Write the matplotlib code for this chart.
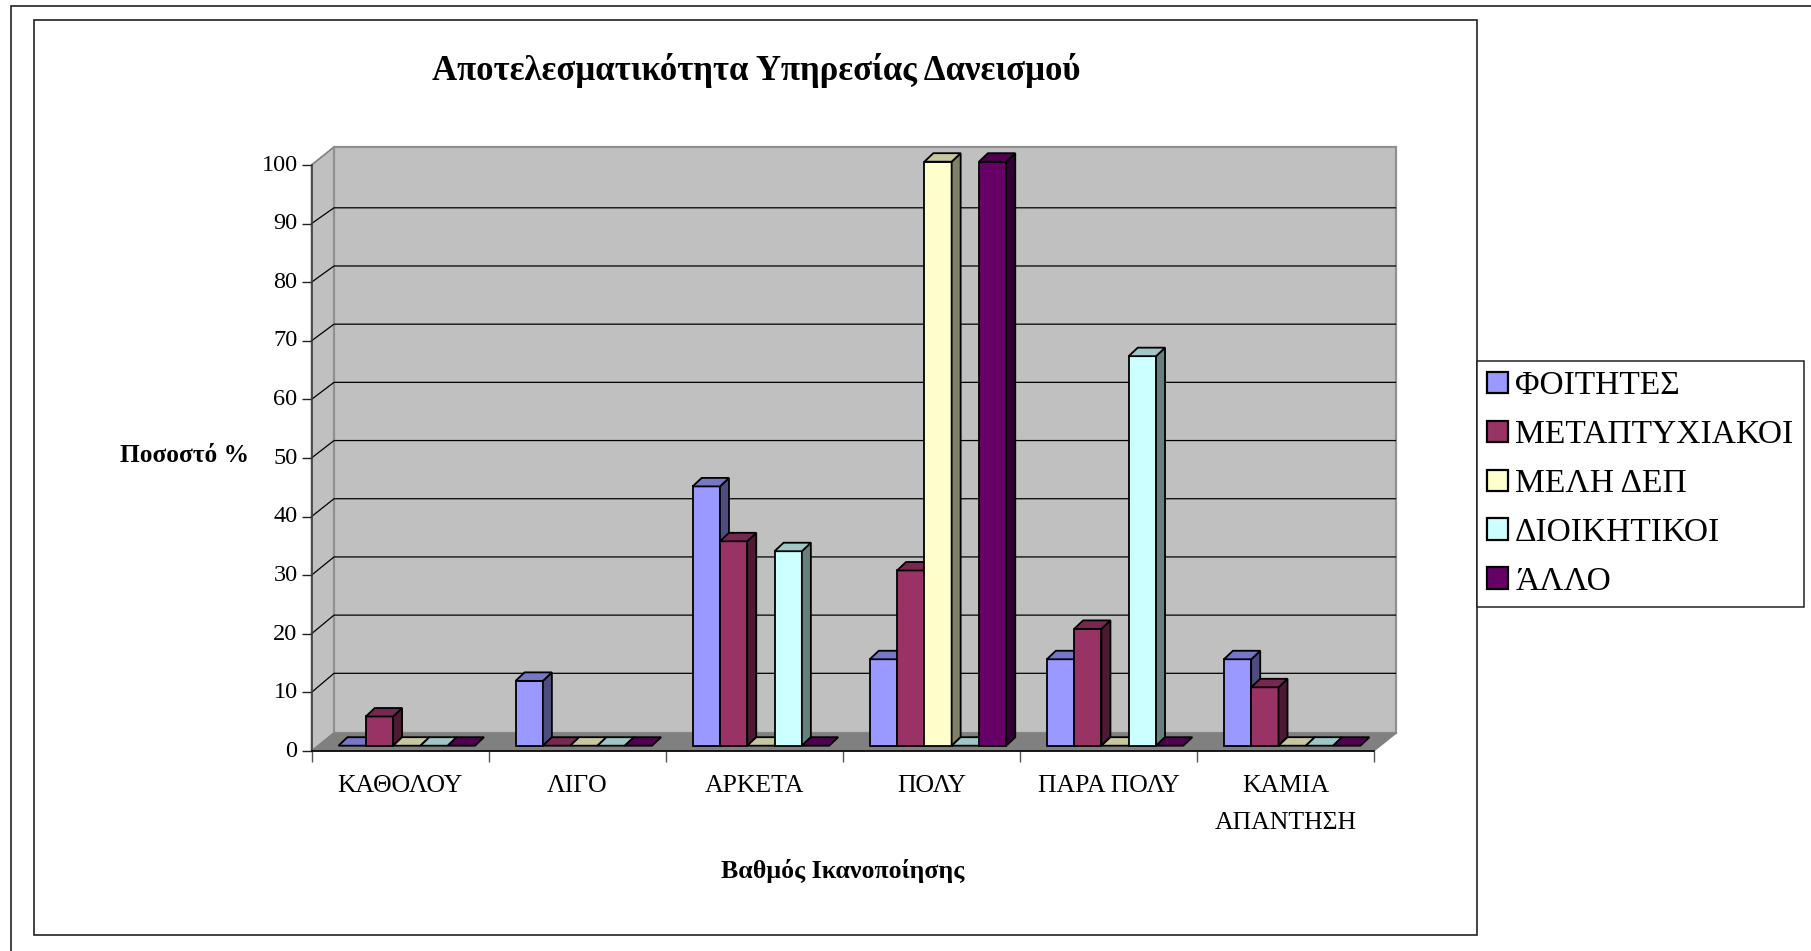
import matplotlib
matplotlib.use("Agg")
import matplotlib.pyplot as plt
from matplotlib.patches import Patch, Rectangle
from matplotlib.ticker import FixedLocator, NullFormatter
from matplotlib.transforms import ScaledTranslation

plt.rcParams['font.family'] = ['Liberation Serif', 'DejaVu Serif']

categories = ['ΚΑΘΟΛΟΥ', 'ΛΙΓΟ', 'ΑΡΚΕΤΑ', 'ΠΟΛΥ', 'ΠΑΡΑ ΠΟΛΥ', 'ΚΑΜΙΑ\nΑΠΑΝΤΗΣΗ']
foitites = [0, 11.1, 44.4, 14.8, 14.8, 14.8]
metaptyxiakoi = [5, 0, 35, 30, 20, 10]
meli_dep = [0, 0, 0, 100, 0, 0]
dioikitikoi = [0, 0, 33.3, 0, 66.7, 0]
allo = [0, 0, 0, 100, 0, 0]
series_names = ['ΦΟΙΤΗΤΕΣ', 'ΜΕΤΑΠΤΥΧΙΑΚΟΙ', 'ΜΕΛΗ ΔΕΠ', 'ΔΙΟΙΚΗΤΙΚΟΙ', 'ΆΛΛΟ']
series_values = [foitites, metaptyxiakoi, meli_dep, dioikitikoi, allo]
colors = ['#9999FF', '#993366', '#FFFFCC', '#CCFFFF', '#660066']
yticks = list(range(0, 101, 10))

W, H = 1811, 951
fig = plt.figure(figsize=(W / 100, H / 100), dpi=100)
fig.patch.set_facecolor('white')


def px_rect(x0, y0, x1, y1, **kw):
    fig.add_artist(Rectangle((x0 / W, 1 - y1 / H), (x1 - x0) / W, (y1 - y0) / H,
                             transform=fig.transFigure, fill=False, **kw))


px_rect(11, 6, 1830, 975, ec='#222222', lw=1.2)
px_rect(34, 19.7, 1476.7, 935, ec='#222222', lw=1.2)

L, R, B, T = 311.5, 1374, 751, 165
ax = fig.add_axes([L / W, 1 - B / H, (R - L) / W, (B - T) / H])
ax.set_xlim(0, 6)
ax.set_ylim(0, 100)
ax.patch.set_visible(False)

xpx = (R - L) / 6          # pixels per category
ypx = (B - T) / 100        # pixels per percent
DX, DY = 22.5 / xpx, 18 / ypx          # chart depth
bar_dx, bar_dy = 9 / xpx, 8.5 / ypx    # depth of a bar
base = 5.3 / ypx                       # front-of-bar baseline
yscale = 0.9966
bar_w = 27.3 / xpx
first = 27.0 / xpx
grid_off, grid_scale = 19.5 / ypx, 0.993

GRAY = '#808080'
WALL = '#C0C0C0'
ax.fill([0, DX, DX, 0], [0, DY, 100 + DY, 100], fc=WALL, ec=GRAY, lw=1.2, clip_on=False, zorder=1)
ax.fill([DX, 6 + DX, 6 + DX, DX], [DY, DY, 100 + DY, 100 + DY], fc=WALL, ec='#909090', lw=1.6, clip_on=False, zorder=1)
ax.fill([0, DX, 6 + DX, 6], [0, DY, DY, 0], fc=GRAY, ec=GRAY, lw=0.8, clip_on=False, zorder=1.1)
for v in yticks[1:-1]:
    gy = grid_off + v * grid_scale
    ax.plot([0, DX, 6 + DX - 0.006], [v, gy, gy], color='black', lw=0.9, clip_on=False, zorder=1.2)


def shade(hexcol, f):
    r, g, b = matplotlib.colors.to_rgb(hexcol)
    return (r * f, g * f, b * f)


for c in range(len(categories)):
    for s, vals in enumerate(series_values):
        x0 = c + first + s * bar_w
        x1 = x0 + bar_w
        top = base + vals[c] * yscale
        ec = dict(ec='black', lw=1.3, joinstyle='miter', clip_on=False, zorder=3)
        if vals[c] > 0:
            ax.bar(x0, top - base, width=bar_w, bottom=base, align='edge',
                   color=colors[s], edgecolor='black', linewidth=1.3, clip_on=False, zorder=3)
            ax.fill([x1, x1 + bar_dx, x1 + bar_dx, x1],
                    [base, base + bar_dy, top + bar_dy, top], fc=shade(colors[s], 0.5), **ec)
        ax.fill([x0, x1, x1 + bar_dx, x0 + bar_dx],
                [top, top, top + bar_dy, top + bar_dy], fc=shade(colors[s], 0.78), **ec)

for k in ('top', 'right'):
    ax.spines[k].set_visible(False)
ax.spines['left'].set_color('#404040')
ax.spines['left'].set_linewidth(1.2)
ax.spines['bottom'].set_color('black')
ax.spines['bottom'].set_linewidth(1.2)
ax.spines['left'].set_zorder(2.5)
ax.spines['bottom'].set_zorder(2.5)

ax.set_yticks(yticks)
ax.tick_params(axis='y', length=7, width=1.0, pad=3, labelsize=17.5, color='#222222')
up = ScaledTranslation(0, 2.3 / 100, fig.dpi_scale_trans)
for lbl in ax.get_yticklabels():
    lbl.set_transform(lbl.get_transform() + up)
ax.xaxis.set_major_locator(FixedLocator(range(0, 7)))
ax.xaxis.set_major_formatter(NullFormatter())
ax.set_xticks([c + 0.5 for c in range(6)], categories, minor=True, fontsize=18.5, linespacing=1.86, va='top')
ax.tick_params(axis='x', which='major', length=8, width=1.0, color='#555555')
ax.tick_params(axis='x', which='minor', length=0, pad=17.6)

fig.text(756 / W, 1 - 70 / H, 'Αποτελεσματικότητα Υπηρεσίας Δανεισμού',
         ha='center', va='center', fontsize=25, fontweight='bold')
fig.text(184 / W, 1 - 456 / H, 'Ποσοστό %', ha='center', va='center', fontsize=18.3, fontweight='bold')
fig.text(843 / W, 1 - 871 / H, 'Βαθμός Ικανοποίησης', ha='center', va='center', fontsize=18.6, fontweight='bold')

handles = [Patch(fc=col, ec='black', lw=1.6, label=n) for col, n in zip(colors, series_names)]
leg = fig.legend(handles=handles, loc='upper left',
                 bbox_to_anchor=(1476.7 / W, 1 - 360.5 / H), bbox_transform=fig.transFigure,
                 fontsize=24.1, frameon=True, fancybox=False, framealpha=1,
                 edgecolor='#222222', handlelength=0.62, handleheight=0.62,
                 handletextpad=0.22, labelspacing=0.55, borderpad=0.31, borderaxespad=0)
leg.get_frame().set_linewidth(1.1)

fig.savefig('out.png', dpi=100)
